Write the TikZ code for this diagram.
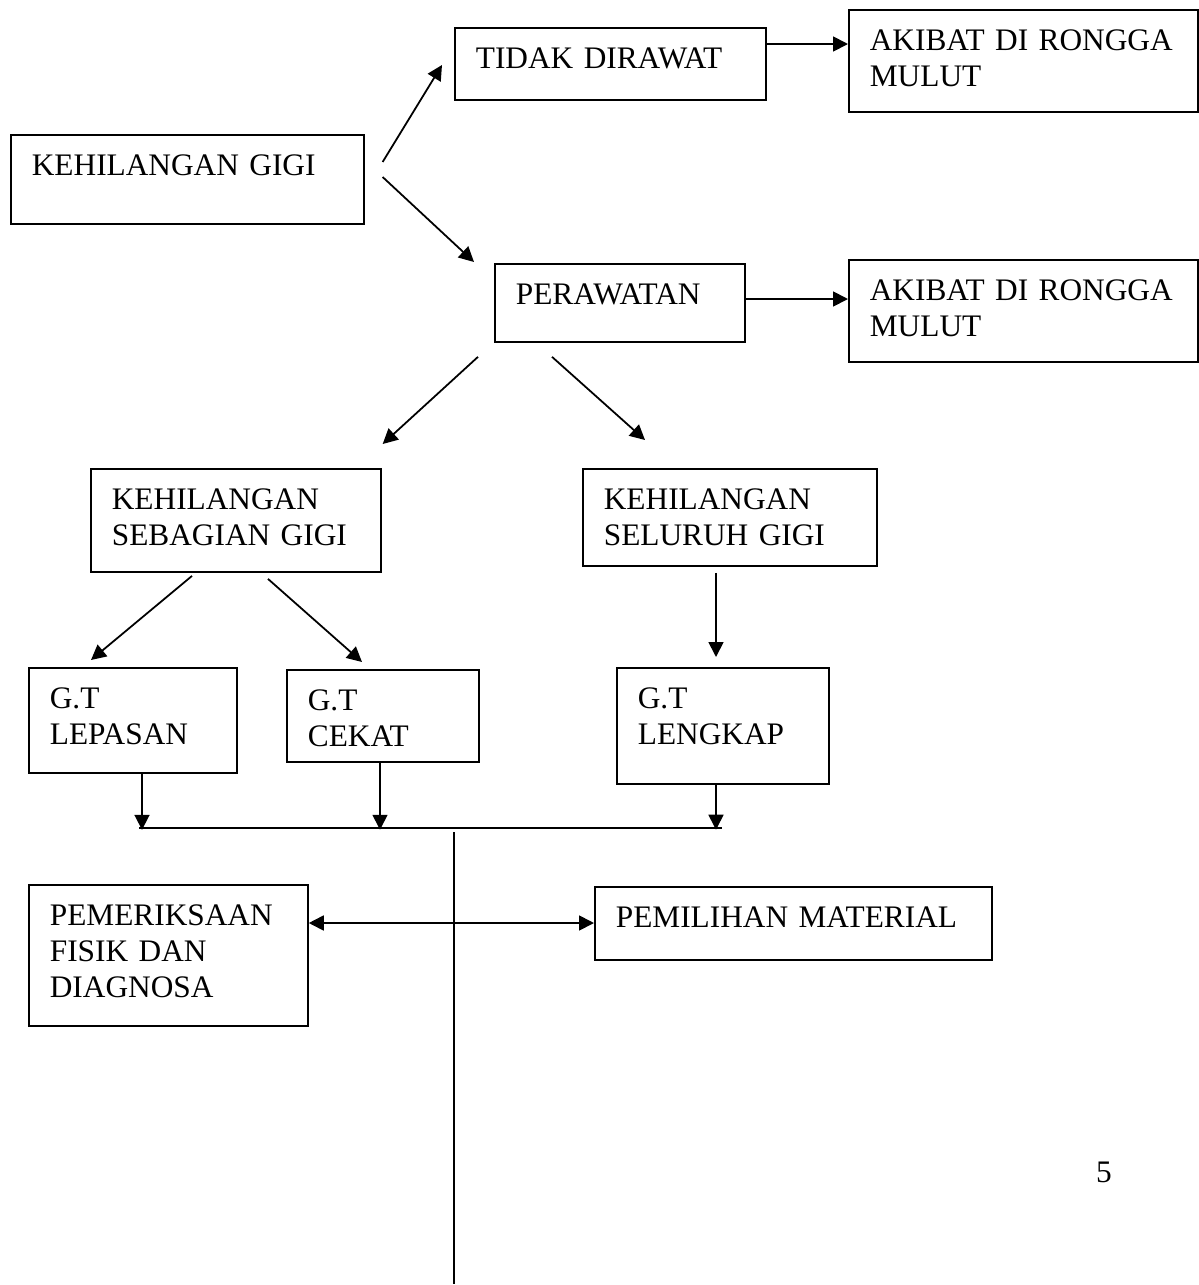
\documentclass[tikz,border=0pt]{standalone}
\usepackage{fontspec}
\setmainfont{Liberation Serif}
\usetikzlibrary{arrows.meta}
\newcommand{\satuan}{0.367pt}

\begin{document}
\begin{tikzpicture}[x=\satuan, y=-\satuan, line width=0.65pt, font=\fontsize{11.5}{13.2}\selectfont]
\tikzset{kotak/.style 2 args={draw, anchor=north west, align=left, inner xsep=7.7pt, inner ysep=0pt,
    text width=#1, text height=15.05pt, text depth=#2},
  panah/.style={-{Triangle[length=5.5pt,width=5.5pt]}},
  dupanah/.style={{Triangle[length=5.5pt,width=5.5pt]}-{Triangle[length=5.5pt,width=5.5pt]}}}
\useasboundingbox (0,0) rectangle (1199,1285);
\node[kotak={114.1pt}{17.6pt}] (kg) at (10,134) {KEHILANGAN~GIGI};
\node[kotak={98.7pt}{11.4pt}] (tidak) at (454,27) {TIDAK~DIRAWAT};
\node[kotak={112.7pt}{22.4pt}] (akibat1) at (848,9) {AKIBAT~DI~RONGGA\\MULUT};
\node[kotak={76.3pt}{13.6pt}] (rawat) at (494,263) {PERAWATAN};
\node[kotak={112.7pt}{22.4pt}] (akibat2) at (848,259) {AKIBAT~DI~RONGGA\\MULUT};
\node[kotak={91pt}{22.8pt}] (sebagian) at (90,468) {KEHILANGAN\\SEBAGIAN~GIGI};
\node[kotak={92.5pt}{20.6pt}] (seluruh) at (582,468) {KEHILANGAN\\SELURUH~GIGI};
\node[kotak={60.9pt}{23.5pt}] (lepasan) at (28,667) {G.T\\LEPASAN};
\node[kotak={55.1pt}{18.7pt}] (cekat) at (286,669) {G.T\\CEKAT};
\node[kotak={62.4pt}{27.5pt}] (lengkap) at (616,667) {G.T\\LENGKAP};
\node[kotak={87pt}{36.7pt}] (periksa) at (28,884) {PEMERIKSAAN\\FISIK~DAN\\DIAGNOSA};
\node[kotak={130.3pt}{11.7pt}] (material) at (594,886) {PEMILIHAN~MATERIAL};
\node (hal) at (1104,1172) {5};
% panah atas
\draw[panah] ([shift={(18,28)}]kg.north east) -- ([shift={(-12,38)}]tidak.north west);
\draw[panah] ([shift={(18,43)}]kg.north east) -- ([shift={(-20,-1)}]rawat.north west);
\draw[panah] ([shift={(0,17)}]tidak.north east) -- ([shift={(0,35)}]akibat1.north west);
\draw[panah] ([shift={(0,36)}]rawat.north east) -- ([shift={(0,40)}]akibat2.north west);
\draw[panah] ([shift={(-16,14)}]rawat.south west) -- ([shift={(1,-24)}]sebagian.north east);
\draw[panah] ([shift={(58,14)}]rawat.south west) -- ([shift={(63,-28)}]seluruh.north west);
\draw[panah] ([shift={(102,3)}]sebagian.south west) -- ([shift={(63,-7)}]lepasan.north west);
\draw[panah] ([shift={(178,6)}]sebagian.south west) -- ([shift={(76,-7)}]cekat.north west);
\draw[panah] ([shift={(134,6)}]seluruh.south west) -- ([shift={(100,-10)}]lengkap.north west);
% ke garis gabung
\draw[panah] ([shift={(114,0)}]lepasan.south west) -- ([shift={(114,56)}]lepasan.south west);
\draw[panah] ([shift={(94,0)}]cekat.south west) -- ([shift={(94,67)}]cekat.south west);
\draw[panah] ([shift={(100,0)}]lengkap.south west) -- ([shift={(100,45)}]lengkap.south west);
\coordinate (kiri) at (139,828);
\coordinate (kanan) at (722,828);
\draw (kiri) -- (kanan);
\coordinate (atas) at (454,832);
\coordinate (bawah) at (454,1284);
\draw (atas) -- (bawah);
\draw[dupanah] ([shift={(0,39)}]periksa.north east) -- ([shift={(0,37)}]material.north west);
\end{tikzpicture}
\end{document}
